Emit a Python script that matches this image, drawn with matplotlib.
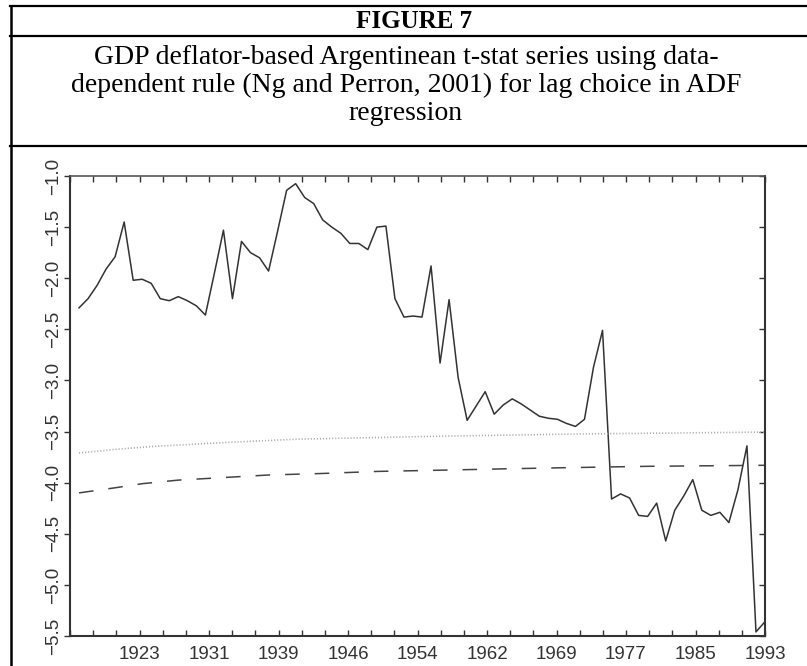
import numpy as np
import matplotlib
matplotlib.use("Agg")
import matplotlib.pyplot as plt
from matplotlib.lines import Line2D

# recursive ADF t-stat, one value per year 1917-1993
years = list(range(1917, 1994))
tstat = [-2.29, -2.20, -2.07, -1.91, -1.79, -1.45, -2.02, -2.01, -2.05, -2.20,
         -2.22, -2.18, -2.22, -2.27, -2.36, -1.95, -1.53, -2.20, -1.64, -1.75,
         -1.80, -1.93, -1.54, -1.14, -1.075, -1.21, -1.27, -1.43, -1.50, -1.56,
         -1.66, -1.66, -1.72, -1.50, -1.49, -2.20, -2.38, -2.37, -2.38, -1.88,
         -2.83, -2.21, -2.97, -3.39, -3.25, -3.11, -3.33, -3.24, -3.18, -3.23,
         -3.29, -3.35, -3.37, -3.38, -3.42, -3.45, -3.38, -2.87, -2.51, -4.16,
         -4.11, -4.15, -4.32, -4.33, -4.20, -4.57, -4.27, -4.13, -3.97, -4.27,
         -4.32, -4.29, -4.39, -4.07, -3.64, -5.46, -5.36]

# critical values (dashed 5%, dotted 10%)
cv5_years = [1917, 1921, 1924, 1928, 1931, 1934, 1938, 1944, 1950, 1957, 1964, 1970, 1980, 1993]
cv5 = [-4.10, -4.05, -4.01, -3.975, -3.96, -3.945, -3.925, -3.91, -3.89, -3.878, -3.865, -3.855, -3.84, -3.83]
cv10_years = [1917, 1921, 1925, 1933, 1941, 1956, 1972, 1993]
cv10 = [-3.71, -3.675, -3.647, -3.608, -3.575, -3.547, -3.524, -3.505]

xtick_labels = ['', '1923', '1931', '1939', '1946', '1954', '1962', '1969', '1977', '1985', '1993']
ytick_vals = [-5.5, -5.0, -4.5, -4.0, -3.5, -3.0, -2.5, -2.0, -1.5, -1.0]
ytick_labels = ['\u22125.5', '\u22125.0', '\u22124.5', '\u22124.0', '\u22123.5',
                '\u22123.0', '\u22122.5', '\u22122.0', '\u22121.5', '\u22121.0']

title = 'FIGURE 7'
subtitle = ['GDP deflator-based Argentinean t-stat series using data-',
            'dependent rule (Ng and Perron, 2001) for lag choice in ADF',
            'regression']

W, H = 807, 666
plt.rcParams['lines.scale_dashes'] = False
fig = plt.figure(figsize=(W / 100, H / 100), dpi=100)


def fx(px):
    return px / W


def fy(py):
    return 1 - py / H


# table frame round the figure
for yy in (6, 36, 146):
    fig.add_artist(Line2D([fx(10), 1], [fy(yy), fy(yy)], color='black', lw=1.6))
fig.add_artist(Line2D([fx(10.5), fx(10.5)], [fy(6), 0], color='black', lw=1.8))

fig.text(fx(414), fy(21), title, ha='center', va='center',
         family='Liberation Serif', weight='bold', size=18)
for i, line in enumerate(subtitle):
    fig.text(fx(406), fy(57 + 28 * i), line, ha='center', va='center',
             family='Liberation Serif', size=20)

ax = fig.add_axes([fx(70), fy(636), fx(765) - fx(70), (636 - 176) / H])
ax.plot(years, tstat, color='#333333', lw=1.1)
ax.plot(cv5_years, cv5, color='#444444', lw=1.1, dashes=(10.5, 10.8))
ax.plot(cv10_years, cv10, color='#aaaaaa', lw=1.2, dashes=(0.8, 1.4))

ax.set_xlim(1916, 1993)
ax.set_ylim(-5.5, -1.0)

ax.set_xticks(np.linspace(1916, 1993, 11))
ax.set_xticks(np.linspace(1916, 1993, 31), minor=True)
ax.set_xticklabels(xtick_labels, family='Liberation Sans')
ax.tick_params(axis='x', which='both', direction='in', top=True, bottom=True,
               length=4, width=1, color='#333333', labelsize=13.5,
               labelcolor='#333333', pad=7)

ax.set_yticks(ytick_vals)
ax.set_yticklabels(ytick_labels, rotation=90, va='center', family='Liberation Sans')
ax.tick_params(axis='y', direction='out', left=True, right=False,
               length=4, width=1, color='#333333', labelsize=13.5,
               labelcolor='#333333', pad=1.5)

sec = ax.secondary_yaxis('right')
sec.set_yticks(ytick_vals)
sec.tick_params(direction='in', length=4, width=1, color='#333333', labelright=False)
sec.spines['right'].set_visible(False)

for side in ('left', 'bottom', 'right'):
    ax.spines[side].set_linewidth(1.5)
    ax.spines[side].set_color('#333333')
ax.spines['top'].set_linewidth(1.2)
ax.spines['top'].set_color('#555555')

fig.savefig('out.png', dpi=100)
